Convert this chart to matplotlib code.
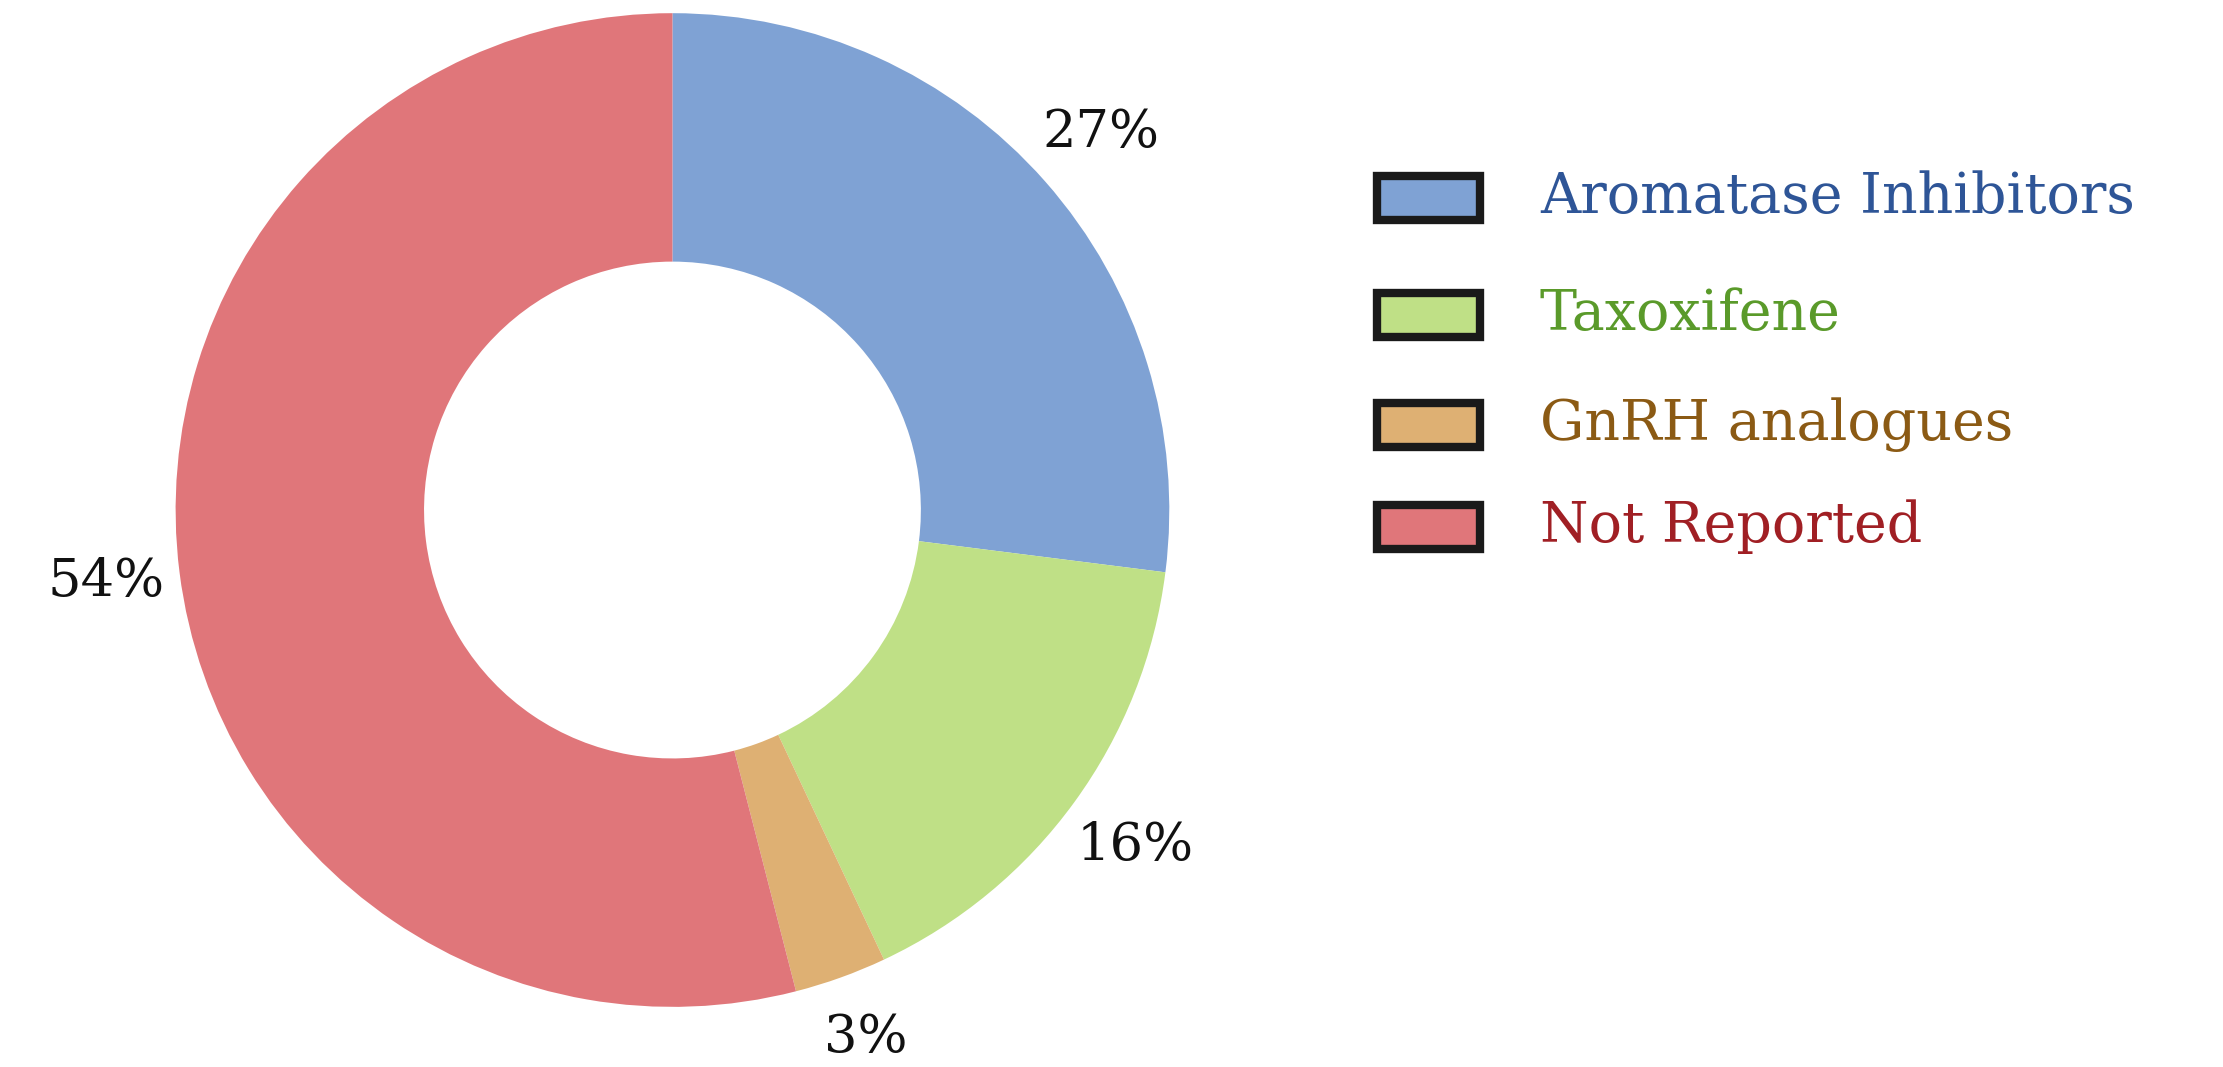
import matplotlib.pyplot as plt
from matplotlib.patches import Rectangle

categories = ['Aromatase Inhibitors', 'Taxoxifene', 'GnRH analogues', 'Not Reported']
shares = [27, 16, 3, 54]
colors = ['#7FA2D4', '#BFE086', '#DEB073', '#E0767A']
text_colors = ['#2E5597', '#5A9A2A', '#8B5A14', '#A01F24']

plt.rcParams['font.family'] = ['DejaVu Serif']

fig = plt.figure(figsize=(22.23, 10.67), dpi=100)
ax = fig.add_axes([0.079, 0.056, 0.447, 0.932])
ax.pie(shares, colors=colors, startangle=90, counterclock=False,
       wedgeprops=dict(width=0.5, edgecolor='none'),
       autopct='%d%%', pctdistance=1.15, textprops=dict(fontsize=38, color='#111111'))
ax.set_xlim(-1, 1)
ax.set_ylim(-1, 1)
ax.set_aspect('equal')
ax.axis('off')
for t in ax.texts:
    if t.get_text() == '3%':
        t.set_y(t.get_position()[1] + 0.02)

# legend drawn by hand
rows_y = [198, 315, 425, 527]
for name, col, tcol, y in zip(categories, colors, text_colors, rows_y):
    yf = 1 - y / 1067
    fig.add_artist(Rectangle((1377 / 2223, yf - 22 / 1067), 103 / 2223, 44 / 1067,
                             transform=fig.transFigure, facecolor=col,
                             edgecolor='#1a1a1a', linewidth=6))
    fig.text(1540 / 2223, yf, name, color=tcol, fontsize=40, va='center', ha='left')

fig.savefig('out.png', dpi=100)
